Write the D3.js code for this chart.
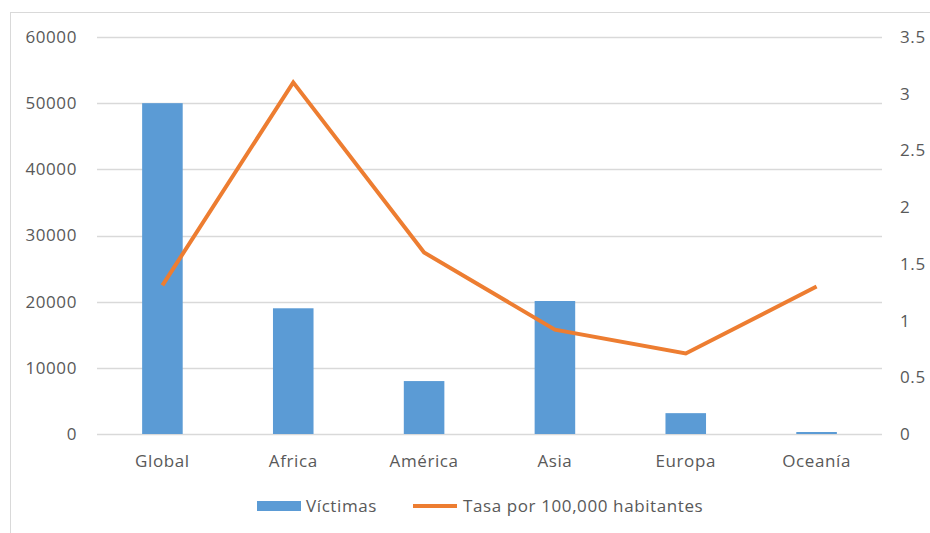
<!DOCTYPE html>
<html><head><meta charset="utf-8">
<script src="https://cdn.jsdelivr.net/npm/d3@7"></script>
<style>body{margin:0;background:#fff}text{font-family:"Open Sans",sans-serif;fill:#595959;letter-spacing:0.6px}</style>
</head><body><svg id="c" width="930" height="533"></svg>
<script>
const categories = ["Global","Africa","América","Asia","Europa","Oceanía"];
const victimas = [50000,19000,8000,20100,3150,300];
const tasa = [1.31,3.10,1.60,0.92,0.71,1.30];
const leftTicks = [0,10000,20000,30000,40000,50000,60000];
const rightTicks = [0,0.5,1,1.5,2,2.5,3,3.5];
const seriesNames = ["Víctimas","Tasa por 100,000 habitantes"];

const svg = d3.select("#c");
const W=930,H=533;
const m={left:97,right:48,top:37,bottom:99};
svg.append("rect").attr("x",10.5).attr("y",12.5).attr("width",W).attr("height",H).attr("fill","none").attr("stroke","#d9d9d9");

const x = d3.scaleBand().domain(categories).range([m.left,W-m.right]).paddingInner(0.69).paddingOuter(0.345);
const yL = d3.scaleLinear().domain([0,60000]).range([H-m.bottom,m.top]);
const yR = d3.scaleLinear().domain([0,3.5]).range([H-m.bottom,m.top]);

svg.append("g").selectAll("line").data(leftTicks).join("line")
 .attr("x1",m.left).attr("x2",W-m.right).attr("y1",d=>Math.round(yL(d))+0.5).attr("y2",d=>Math.round(yL(d))+0.5)
 .attr("stroke","#d9d9d9").attr("stroke-width",1.5);

svg.append("g").selectAll("rect").data(victimas).join("rect")
 .attr("x",(d,i)=>x(categories[i])).attr("width",x.bandwidth())
 .attr("y",d=>yL(d)).attr("height",d=>yL(0)-yL(d)).attr("fill","#5B9BD5");

const line = d3.line().x((d,i)=>x(categories[i])+x.bandwidth()/2).y(d=>yR(d));
svg.append("path").datum(tasa).attr("d",line).attr("fill","none").attr("stroke","#ED7D31").attr("stroke-width",4).attr("stroke-linejoin","miter");

const axL = svg.append("g").attr("transform",`translate(${m.left-20},0)`)
 .call(d3.axisLeft(yL).tickValues(leftTicks).tickFormat(d3.format("d")).tickSize(0).tickPadding(0));
const axR = svg.append("g").attr("transform",`translate(${W-m.right+18},0)`)
 .call(d3.axisRight(yR).tickValues(rightTicks).tickFormat(d=>String(d)).tickSize(0).tickPadding(0));
const axB = svg.append("g").attr("transform",`translate(0,${H-m.bottom})`)
 .call(d3.axisBottom(x).tickSize(0).tickPadding(21));
[axL,axR,axB].forEach(a=>{a.select(".domain").remove();a.selectAll("text").attr("font-size",17).attr("font-family","Open Sans").attr("fill","#595959");});

const lg = svg.append("g").attr("transform","translate(257,506)");
lg.append("rect").attr("x",0).attr("y",-5).attr("width",44).attr("height",10).attr("fill","#5B9BD5");
lg.append("text").attr("x",49).attr("y",6).attr("font-size",17).text(seriesNames[0]);
lg.append("line").attr("x1",156).attr("x2",200).attr("y1",0).attr("y2",0).attr("stroke","#ED7D31").attr("stroke-width",4);
lg.append("text").attr("x",206).attr("y",6).attr("font-size",17).text(seriesNames[1]);
</script></body></html>
